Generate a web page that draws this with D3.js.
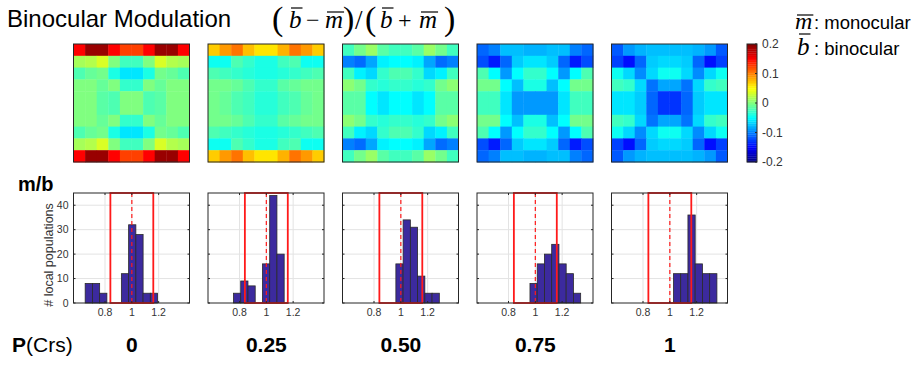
<!DOCTYPE html>
<html>
<head>
<meta charset="utf-8">
<script src="https://cdn.jsdelivr.net/npm/d3@7"></script>
<style>
  body { margin: 0; background: #fff; }
  svg { display: block; }
</style>
</head>
<body>
<div id="chart"></div>
<script>
// crossing probability per column
const pCrs = ["0", "0.25", "0.50", "0.75", "1"];

// binocular modulation maps, 10x10, one per column
const mod0 = [
  [0.15, 0.19, 0.19, 0.15, 0.125, 0.125, 0.15, 0.19, 0.19, 0.15],
  [0.015, 0.02, 0.035, 0.0, -0.025, -0.025, 0.0, 0.035, 0.02, 0.015],
  [-0.02, -0.01, -0.005, -0.04, -0.06, -0.06, -0.04, -0.005, -0.01, -0.02],
  [0.0, 0.0, -0.01, 0.0, -0.03, -0.03, 0.0, -0.01, 0.0, 0.0],
  [0.0, 0.0, -0.015, -0.02, 0.0, 0.0, -0.02, -0.015, 0.0, 0.0],
  [0.0, 0.0, -0.015, -0.02, 0.0, 0.0, -0.02, -0.015, 0.0, 0.0],
  [0.0, 0.0, -0.01, 0.0, -0.03, -0.03, 0.0, -0.01, 0.0, 0.0],
  [-0.02, -0.01, -0.005, -0.04, -0.06, -0.06, -0.04, -0.005, -0.01, -0.02],
  [0.015, 0.02, 0.035, 0.0, -0.025, -0.025, 0.0, 0.035, 0.02, 0.015],
  [0.15, 0.19, 0.19, 0.15, 0.125, 0.125, 0.15, 0.19, 0.19, 0.15]
];
const mod25 = [
  [0.07, 0.09, 0.105, 0.075, 0.06, 0.06, 0.08, 0.105, 0.09, 0.07],
  [-0.045, -0.045, -0.02, -0.03, -0.04, -0.04, -0.025, -0.02, -0.045, -0.045],
  [-0.02, -0.025, -0.03, -0.035, -0.04, -0.04, -0.035, -0.03, -0.025, -0.02],
  [-0.005, -0.005, -0.01, -0.02, -0.03, -0.03, -0.015, -0.01, -0.005, -0.005],
  [-0.005, -0.01, -0.02, -0.025, -0.035, -0.035, -0.025, -0.02, -0.01, -0.005],
  [-0.005, -0.01, -0.02, -0.025, -0.035, -0.035, -0.025, -0.02, -0.01, -0.005],
  [-0.005, -0.005, -0.01, -0.02, -0.03, -0.03, -0.015, -0.01, -0.005, -0.005],
  [-0.02, -0.025, -0.03, -0.035, -0.04, -0.04, -0.035, -0.03, -0.025, -0.02],
  [-0.045, -0.045, -0.02, -0.03, -0.04, -0.04, -0.025, -0.02, -0.045, -0.045],
  [0.07, 0.09, 0.105, 0.075, 0.06, 0.06, 0.08, 0.105, 0.09, 0.07]
];
const mod50 = [
  [-0.025, -0.005, 0.01, -0.015, -0.025, -0.025, -0.015, 0.01, -0.005, -0.025],
  [-0.1, -0.108, -0.085, -0.055, -0.05, -0.05, -0.055, -0.085, -0.108, -0.1],
  [-0.025, -0.055, -0.065, -0.03, -0.02, -0.02, -0.03, -0.065, -0.055, -0.025],
  [0.005, -0.005, -0.03, -0.035, -0.03, -0.03, -0.035, -0.03, -0.005, 0.005],
  [-0.015, -0.015, -0.05, -0.06, -0.05, -0.05, -0.06, -0.05, -0.015, -0.015],
  [-0.015, -0.015, -0.05, -0.06, -0.05, -0.05, -0.06, -0.05, -0.015, -0.015],
  [0.005, -0.005, -0.03, -0.035, -0.03, -0.03, -0.035, -0.03, -0.005, 0.005],
  [-0.025, -0.055, -0.065, -0.03, -0.02, -0.02, -0.03, -0.065, -0.055, -0.025],
  [-0.1, -0.108, -0.085, -0.055, -0.05, -0.05, -0.055, -0.085, -0.108, -0.1],
  [-0.025, -0.005, 0.01, -0.015, -0.025, -0.025, -0.015, 0.01, -0.005, -0.025]
];
const mod75 = [
  [-0.11, -0.1, -0.075, -0.075, -0.08, -0.08, -0.075, -0.075, -0.1, -0.11],
  [-0.12, -0.14, -0.11, -0.07, -0.06, -0.06, -0.07, -0.11, -0.14, -0.12],
  [-0.02, -0.05, -0.09, -0.05, -0.03, -0.03, -0.05, -0.09, -0.05, -0.02],
  [-0.005, -0.005, -0.05, -0.075, -0.04, -0.04, -0.075, -0.05, -0.005, -0.005],
  [-0.025, -0.025, -0.06, -0.09, -0.09, -0.09, -0.09, -0.06, -0.025, -0.025],
  [-0.025, -0.025, -0.06, -0.09, -0.09, -0.09, -0.09, -0.06, -0.025, -0.025],
  [-0.005, -0.005, -0.05, -0.075, -0.04, -0.04, -0.075, -0.05, -0.005, -0.005],
  [-0.02, -0.05, -0.09, -0.05, -0.03, -0.03, -0.05, -0.09, -0.05, -0.02],
  [-0.12, -0.14, -0.11, -0.07, -0.06, -0.06, -0.07, -0.11, -0.14, -0.12],
  [-0.11, -0.1, -0.075, -0.075, -0.08, -0.08, -0.075, -0.075, -0.1, -0.11]
];
const mod100 = [
  [-0.115, -0.09, -0.08, -0.075, -0.075, -0.075, -0.075, -0.08, -0.09, -0.115],
  [-0.125, -0.145, -0.11, -0.07, -0.065, -0.065, -0.07, -0.11, -0.145, -0.125],
  [-0.045, -0.065, -0.095, -0.065, -0.045, -0.045, -0.065, -0.095, -0.065, -0.045],
  [-0.025, -0.03, -0.065, -0.105, -0.085, -0.085, -0.105, -0.065, -0.03, -0.025],
  [-0.06, -0.06, -0.07, -0.11, -0.13, -0.13, -0.11, -0.07, -0.06, -0.06],
  [-0.06, -0.06, -0.07, -0.11, -0.13, -0.13, -0.11, -0.07, -0.06, -0.06],
  [-0.025, -0.03, -0.065, -0.105, -0.085, -0.085, -0.105, -0.065, -0.03, -0.025],
  [-0.045, -0.065, -0.095, -0.065, -0.045, -0.045, -0.065, -0.095, -0.065, -0.045],
  [-0.125, -0.145, -0.11, -0.07, -0.065, -0.065, -0.07, -0.11, -0.145, -0.125],
  [-0.115, -0.09, -0.08, -0.075, -0.075, -0.075, -0.075, -0.08, -0.09, -0.115]
];
const modMaps = [mod0, mod25, mod50, mod75, mod100];

// m/b histograms: first bin edge, common bin width, counts
const histStart = [0.652, 0.593, 0.963, 0.96, 1.027];
const binWidth = 0.054;
const histCounts = [
  [8, 8, 4, 0, 0, 12, 32, 28, 4, 4],
  [0, 0, 0, 4, 9, 7, 0, 16, 44, 20],
  [16, 34, 31, 11, 4, 4],
  [8, 16, 20, 24, 16, 12, 4],
  [12, 12, 36, 16, 12, 12]
];

const xTicks = [0.8, 1, 1.2];
const yTicks = [0, 10, 20, 30, 40];
const cbTicks = [0.2, 0.1, 0, -0.1, -0.2];
const boxRange = [0.84, 1.16];

// matlab jet colormap
function jet(t) {
  const c = v => Math.max(0, Math.min(1, v));
  return d3.rgb(255 * c(1.5 - Math.abs(4 * t - 3)),
                255 * c(1.5 - Math.abs(4 * t - 2)),
                255 * c(1.5 - Math.abs(4 * t - 1))).toString();
}

const svg = d3.select("#chart").append("svg")
  .attr("width", 922).attr("height", 382)
  .style("font-family", "'Liberation Sans', Arial, sans-serif");

const panelX = d3.scaleLinear().domain([0, 4]).range([73.5, 611.5]);
const panelW = 116;
const heat = {top: 44, h: 118};
const hist = {top: 193, h: 110};
const axisCol = "#262626";

const colour = d3.scaleSequential(jet).domain([-0.2, 0.2]);
const cellX = d3.scaleBand().domain(d3.range(10)).range([0, panelW]);
const cellY = d3.scaleBand().domain(d3.range(10)).range([0, heat.h]);

// heat maps
modMaps.forEach((m, i) => {
  const g = svg.append("g").attr("transform", `translate(${panelX(i)},${heat.top})`);
  const cells = m.flatMap((row, r) => row.map((v, c) => ({r, c, v})));
  g.selectAll("rect.cell").data(cells).join("rect")
    .attr("class", "cell")
    .attr("x", d => cellX(d.c))
    .attr("y", d => cellY(d.r))
    .attr("width", cellX.bandwidth() + 0.4)
    .attr("height", cellY.bandwidth() + 0.4)
    .attr("fill", d => colour(d.v));
  g.append("rect").attr("width", panelW).attr("height", heat.h)
    .attr("fill", "none").attr("stroke", axisCol).attr("stroke-width", 1);
});

// colour bar
const cbX = 747, cbW = 10;
const cbY = d3.scaleLinear().domain([-0.2, 0.2]).range([heat.top + heat.h, heat.top]);
const cbSteps = d3.range(64).map(k => -0.2 + (k + 0.5) * 0.4 / 64);
svg.append("g").selectAll("rect").data(cbSteps).join("rect")
  .attr("x", cbX)
  .attr("y", d => cbY(d + 0.2 / 64))
  .attr("width", cbW)
  .attr("height", cbY(0) - cbY(0.4 / 64) + 0.3)
  .attr("fill", d => colour(d));
svg.append("rect").attr("x", cbX).attr("y", cbY(0.2)).attr("width", cbW)
  .attr("height", cbY(-0.2) - cbY(0.2)).attr("fill", "none").attr("stroke", axisCol);
svg.append("g").selectAll("line").data(cbTicks).join("line")
  .attr("x1", cbX + cbW - 2).attr("x2", cbX + cbW)
  .attr("y1", d => cbY(d)).attr("y2", d => cbY(d))
  .attr("stroke", axisCol);
svg.append("g").selectAll("text").data(cbTicks).join("text")
  .attr("x", cbX + 15)
  .attr("y", d => cbY(d) + 4)
  .attr("font-size", 12).attr("fill", "#333")
  .text(d => String(d));

// histograms
const x = d3.scaleLinear().domain([0.565, 1.43]).range([0, panelW]);
const y = d3.scaleLinear().domain([0, 45]).range([hist.h, 0]);

histCounts.forEach((counts, i) => {
  const g = svg.append("g").attr("transform", `translate(${panelX(i)},${hist.top})`);

  // grid
  g.selectAll(".gx").data(xTicks).join("line").attr("class", "gx")
    .attr("x1", d => x(d)).attr("x2", d => x(d))
    .attr("y1", 0).attr("y2", hist.h)
    .attr("stroke", "#e3e3e3");
  g.selectAll(".gy").data(yTicks.slice(1)).join("line").attr("class", "gy")
    .attr("x1", 0).attr("x2", panelW)
    .attr("y1", d => y(d)).attr("y2", d => y(d))
    .attr("stroke", "#e3e3e3");

  // bars
  const bins = counts.map((n, k) => ({
    x0: histStart[i] + k * binWidth,
    x1: histStart[i] + (k + 1) * binWidth,
    n
  }));
  g.selectAll(".bar").data(bins).join("rect").attr("class", "bar")
    .attr("x", d => x(d.x0))
    .attr("y", d => y(d.n))
    .attr("width", d => x(d.x1) - x(d.x0))
    .attr("height", d => y(0) - y(d.n))
    .attr("fill", "#3c2a9e")
    .attr("stroke", "#2a2a2a")
    .attr("stroke-width", 0.8);

  // red selection box and unity line
  g.append("rect")
    .attr("x", x(boxRange[0])).attr("y", y(45))
    .attr("width", x(boxRange[1]) - x(boxRange[0]))
    .attr("height", y(0) - y(45))
    .attr("fill", "none").attr("stroke", "#ff1a1a").attr("stroke-width", 1.8);
  g.append("line")
    .attr("x1", x(1)).attr("x2", x(1))
    .attr("y1", y(45)).attr("y2", y(0))
    .attr("stroke", "#ff1a1a").attr("stroke-width", 1.2)
    .attr("stroke-dasharray", "4,3");

  // axes box + inner ticks
  g.append("rect").attr("width", panelW).attr("height", hist.h)
    .attr("fill", "none").attr("stroke", axisCol);
  g.selectAll(".tx").data(xTicks).join("path").attr("class", "tx")
    .attr("d", d => `M${x(d)},${hist.h}v-2M${x(d)},0v2`)
    .attr("stroke", axisCol);
  g.selectAll(".ty").data(yTicks).join("path").attr("class", "ty")
    .attr("d", d => `M0,${y(d)}h2M${panelW},${y(d)}h-2`)
    .attr("stroke", axisCol);

  g.selectAll(".lx").data(xTicks).join("text").attr("class", "lx")
    .attr("x", d => x(d)).attr("y", hist.h + 13)
    .attr("text-anchor", "middle")
    .attr("font-size", 10.5).attr("fill", "#333")
    .text(d => String(d));

  if (i === 0) {
    g.selectAll(".ly").data(yTicks).join("text").attr("class", "ly")
      .attr("x", -5).attr("y", d => y(d) + 3.5)
      .attr("text-anchor", "end")
      .attr("font-size", 10.5).attr("fill", "#333")
      .text(d => d);
    g.append("text")
      .attr("transform", `translate(-21,${hist.h / 2 + 7}) rotate(-90)`)
      .attr("text-anchor", "middle")
      .attr("font-size", 12.5).attr("fill", "#333")
      .text("# local populations");
  }
});

// P(Crs) labels
const pRow = svg.append("text").attr("x", 12).attr("y", 352)
  .attr("font-size", 21).attr("fill", "#000");
pRow.append("tspan").attr("font-weight", "bold").text("P");
pRow.append("tspan").text("(Crs)");
svg.append("g").selectAll("text").data(pCrs).join("text")
  .attr("x", (d, i) => panelX(i) + x(1))
  .attr("y", 352)
  .attr("text-anchor", "middle")
  .attr("font-size", 21).attr("font-weight", "bold")
  .text(d => d);

svg.append("text").attr("x", 18).attr("y", 191)
  .attr("font-size", 20).attr("font-weight", "bold").text("m/b");

// title
svg.append("text").attr("x", 7).attr("y", 27)
  .attr("font-size", 24).text("Binocular Modulation");

// formula (b - m)/(b + m) with bars
const serif = "'Liberation Serif', 'Times New Roman', serif";
const formula = [
  {t: "(", x: 272, size: 34, italic: false, dy: 2},
  {t: "b", x: 289, size: 25, italic: true, bar: 8},
  {t: "\u2212", x: 306, size: 24, italic: false},
  {t: "m", x: 325, size: 25, italic: true, bar: 12},
  {t: ")", x: 343, size: 34, italic: false, dy: 2},
  {t: "/", x: 355, size: 27, italic: false, dy: 1},
  {t: "(", x: 365, size: 34, italic: false, dy: 2},
  {t: "b", x: 380, size: 25, italic: true, bar: 8},
  {t: "+", x: 398, size: 24, italic: false},
  {t: "m", x: 419, size: 25, italic: true, bar: 12},
  {t: ")", x: 444, size: 34, italic: false, dy: 2}
];
function mathToken(d, baseY) {
  const tx = svg.append("text")
    .attr("x", d.x).attr("y", baseY + (d.dy || 0))
    .attr("font-family", serif)
    .attr("font-size", d.size)
    .attr("font-style", d.italic ? "italic" : "normal")
    .text(d.t);
  if (d.bar) {
    const w = tx.node().getComputedTextLength();
    svg.append("line")
      .attr("x1", d.x + 2).attr("x2", d.x + w + 1)
      .attr("y1", baseY - 28 + d.bar).attr("y2", baseY - 28 + d.bar)
      .attr("stroke", "#000").attr("stroke-width", 1.2);
  }
}
formula.forEach(d => mathToken(d, 28));

// legend at top right
mathToken({t: "m", x: 795, size: 24, italic: true, bar: 14}, 29);
svg.append("text").attr("x", 814).attr("y", 29).attr("font-size", 18.5).text(": monocular");
mathToken({t: "b", x: 797, size: 25, italic: true, bar: 7}, 55);
svg.append("text").attr("x", 814).attr("y", 55).attr("font-size", 18.5).text(": binocular");
</script>
</body>
</html>
